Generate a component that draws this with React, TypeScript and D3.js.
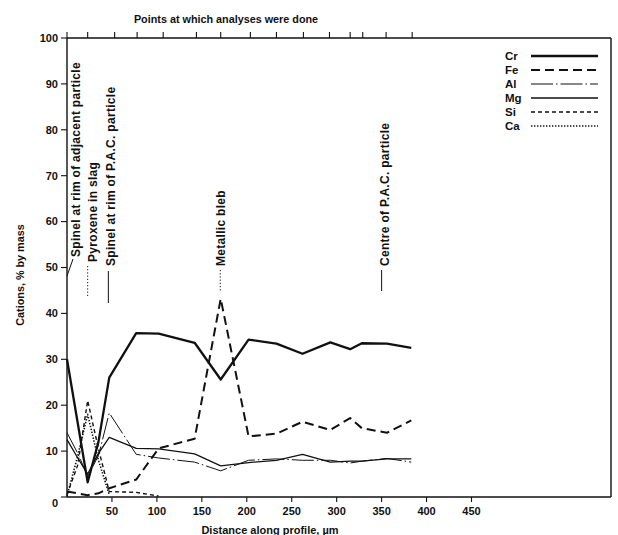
import React from "react";
import * as d3 from "d3";

const distance = [0, 12, 23, 35, 47, 77, 102, 142, 171, 202, 233, 262, 293, 315, 328, 356, 383];
const cr = [30, null, 3.2, 12, 26, 35.7, 35.6, 33.6, 25.6, 34.3, 33.4, 31.2, 33.7, 32.2, 33.5, 33.4, 32.5];
const fe = [1.2, null, 0.4, 0.8, 1.9, 3.8, 10.6, 12.7, 43.2, 13.2, 13.8, 16.4, 14.6, 17.2, 15.0, 14.0, 16.7];
const al = [14, 9.5, 4.5, 9, 18.3, 9.3, 8.5, 7.6, 5.7, 8.0, 8.3, 8.0, 8.0, 7.4, 7.8, 8.4, 7.6];
const mg = [12.5, 8.5, 5, 9.5, 13.0, 10.6, 10.5, 9.4, 6.8, 7.5, 8.0, 9.3, 7.6, 7.8, 7.8, 8.3, 8.3];
const si = [0.5, 7, 21, 10.5, 1.2, 1.0, 0.2, null, null, null, null, null, null, null, null, null, null];
const ca = [0.2, 9, 18, 8, 0.5, null, null, null, null, null, null, null, null, null, null, null, null];

const analysisTicks = [23, 53, 78, 107, 144, 171, 204, 233, 263, 292, 315, 329, 355, 384];
const xTicks = [50, 100, 150, 200, 250, 300, 350, 400, 450];
const yTicks = [0, 10, 20, 30, 40, 50, 60, 70, 80, 90, 100];

const seriesNames = ["Cr", "Fe", "Al", "Mg", "Si", "Ca"];
const seriesValues = [cr, fe, al, mg, si, ca];
const seriesWidth = [2.3, 2, 1, 1.3, 1.4, 1.6];
const seriesDash = ["none", "9,5", "22,3,1.5,3", "none", "4,3", "1.4,1.6"];

const annotationText = [
  "Spinel at rim of adjacent particle",
  "Pyroxene in slag",
  "Spinel at rim of P.A.C. particle",
  "Metallic bleb",
  "Centre of P.A.C. particle",
];
const annotationX = [0, 23, 46, 170.5, 350];
const annotationLeader = ["slant", "dotted", "solid", "dotted", "solid"];

const FONT = "'Liberation Sans', Arial, Helvetica, sans-serif";

export default function App() {
  const W = 618, H = 535;
  const x = d3.scaleLinear().domain([0, 450]).range([67, 471.5]);
  const y = d3.scaleLinear().domain([0, 100]).range([497, 38]);
  const right = 611;
  const top = y(100), bottom = y(0), left = x(0);

  const line = d3
    .line<[number, number]>()
    .x((d) => x(d[0]))
    .y((d) => y(d[1]));

  const ink = "#111";

  return (
    <svg width={W} height={H} style={{ position: "absolute", left: 0, top: 0, background: "#fff" }} fontFamily={FONT}>
      <rect x={0} y={0} width={W} height={H} fill="#fff" />
      <text x={226} y={23} textAnchor="middle" fontSize={10.8} fontWeight="bold" fill={ink}>
        Points at which analyses were done
      </text>
      <g stroke={ink} strokeWidth={1.4} fill="none">
        <line x1={left} y1={top} x2={right} y2={top} />
        <line x1={left} y1={top} x2={left} y2={bottom} />
        <line x1={left} y1={bottom} x2={right} y2={bottom} />
        <line x1={right} y1={top} x2={right} y2={bottom} />
      </g>
      <g stroke={ink} strokeWidth={1.1}>
        {analysisTicks.map((t, i) => (
          <line key={i} x1={x(t)} x2={x(t)} y1={top - 6} y2={top} />
        ))}
        <line x1={left} x2={left} y1={top - 6} y2={top} />
      </g>
      <g>
        {yTicks.map((t, i) => (
          <g key={i}>
            <line x1={left - 6} x2={left} y1={y(t)} y2={y(t)} stroke={ink} strokeWidth={1.1} />
            <text
              x={left - 9}
              y={y(t) + (t === 0 ? 6 : 0)}
              dy="0.35em"
              textAnchor="end"
              fontSize={11}
              fontWeight="bold"
              fill={ink}
            >
              {t}
            </text>
          </g>
        ))}
      </g>
      <g>
        {xTicks.map((t, i) => (
          <g key={i}>
            <line x1={x(t)} x2={x(t)} y1={bottom} y2={bottom + 5} stroke={ink} strokeWidth={1.1} />
            <text x={x(t)} y={bottom + 18} textAnchor="middle" fontSize={11} fontWeight="bold" fill={ink}>
              {t}
            </text>
          </g>
        ))}
      </g>
      <text
        transform={`translate(24,275) rotate(-90)`}
        textAnchor="middle"
        fontSize={10.8}
        fontWeight="bold"
        fill={ink}
      >
        Cations, % by mass
      </text>
      <text x={270} y={534} textAnchor="middle" fontSize={11} fontWeight="bold" fill={ink}>
        Distance along profile, µm
      </text>
      <g fill="none" strokeLinejoin="round">
        {seriesValues.map((vals, si2) => {
          const pts = distance
            .map((d, i) => [d, vals[i]] as [number, number | null])
            .filter((p) => p[1] !== null) as [number, number][];
          return (
            <path
              key={si2}
              d={line(pts) || ""}
              stroke={ink}
              strokeWidth={seriesWidth[si2]}
              strokeDasharray={seriesDash[si2]}
            />
          );
        })}
      </g>
      <g>
        {annotationText.map((t, i) => {
          const ax = x(annotationX[i]);
          const kind = annotationLeader[i];
          let leader = null;
          let tx = ax + 3;
          let ty = 266;
          if (kind === "slant") {
            leader = <line x1={ax} y1={276} x2={ax + 6} y2={259} stroke={ink} strokeWidth={1} />;
            tx = ax + 9;
            ty = 257;
          } else if (kind === "dotted") {
            const y2 = i === 1 ? 298 : 291;
            leader = (
              <line x1={ax} y1={i === 1 ? 266 : 270} x2={ax} y2={y2} stroke={ink} strokeWidth={1} strokeDasharray="1.2,2" />
            );
            tx = i === 1 ? ax + 5 : ax + 1;
            ty = i === 1 ? 262 : 266;
          } else {
            const y1 = i === 2 ? 271 : 270;
            const y2 = i === 2 ? 303 : 291;
            leader = <line x1={ax} y1={y1} x2={ax} y2={y2} stroke={ink} strokeWidth={1} />;
            tx = ax + 3;
            ty = 266;
          }
          return (
            <g key={i}>
              {leader}
              <text
                transform={`translate(${tx},${ty}) rotate(-90)`}
                dominantBaseline="central"
                fontSize={12}
                letterSpacing={0.3}
                fontWeight="bold"
                fill={ink}
              >
                {t}
              </text>
            </g>
          );
        })}
      </g>
      <g>
        {seriesNames.map((n, i) => {
          const ly = 56 + i * 14;
          return (
            <g key={n}>
              <text x={505} y={ly} dy="0.35em" fontSize={11.5} fontWeight="bold" fill={ink}>
                {n}
              </text>
              <line
                x1={531}
                x2={598}
                y1={ly}
                y2={ly}
                stroke={ink}
                strokeWidth={seriesWidth[i]}
                strokeDasharray={seriesDash[i]}
              />
            </g>
          );
        })}
      </g>
    </svg>
  );
}
